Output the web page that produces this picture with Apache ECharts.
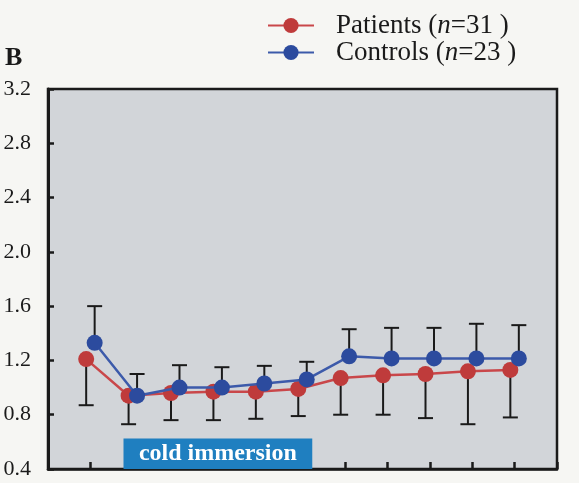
<!DOCTYPE html>
<html>
<head>
<meta charset="utf-8">
<script src="https://cdn.jsdelivr.net/npm/echarts@6/dist/echarts.min.js"></script>
<style>
html,body{margin:0;padding:0;background:#f6f6f3;}
#chart{width:579px;height:483px;}
</style>
</head>
<body>
<div id="chart"></div>
<script>
// Time points (11 measurements, unlabeled on the x axis)
const timePoints = [1, 2, 3, 4, 5, 6, 7, 8, 9, 10, 11];
// Patients (n=31): mean and lower error bound
const patientsMean  = [1.21, 0.94, 0.96, 0.97, 0.97, 0.99, 1.07, 1.09, 1.10, 1.12, 1.13];
const patientsLower = [0.87, 0.73, 0.76, 0.76, 0.77, 0.79, 0.80, 0.80, 0.775, 0.73, 0.78];
// Controls (n=23): mean and upper error bound
const controlsMean  = [1.33, 0.94, 1.00, 1.00, 1.03, 1.06, 1.23, 1.215, 1.215, 1.215, 1.215];
const controlsUpper = [1.60, 1.10, 1.165, 1.15, 1.16, 1.19, 1.43, 1.44, 1.44, 1.47, 1.46];
// Y tick labels
const yTicks = ['0.4', '0.8', '1.2', '1.6', '2.0', '2.4', '2.8', '3.2'];
// Cold immersion period (x range on the time axis)
const coldRange = [1.78, 6.23];
const coldTop = 0.625;

const SERIF = '"Liberation Serif", "Times New Roman", serif';
const RED = '#bf3b3b', BLUE = '#2c4b9e';
const OFF = 0.1;

function pts(means, off) { return timePoints.map((t, i) => [t + off, means[i]]); }
function errData(means, bounds, off) { return timePoints.map((t, i) => [t + off, means[i], bounds[i]]); }

function errRender(params, api) {
  const x = api.value(0), m = api.value(1), b = api.value(2);
  const p1 = api.coord([x, m]), p2 = api.coord([x, b]);
  const w = 7.5;
  const st = { stroke: '#1a1a1a', lineWidth: 2 };
  return { type: 'group', children: [
    { type: 'line', shape: { x1: p1[0], y1: p1[1], x2: p2[0], y2: p2[1] }, style: st },
    { type: 'line', shape: { x1: p2[0] - w, y1: p2[1], x2: p2[0] + w, y2: p2[1] }, style: st }
  ]};
}

const chart = echarts.init(document.getElementById('chart'));
chart.setOption({
  backgroundColor: '#f6f6f3',
  animation: false,
  title: { text: 'B', left: 5, top: 45, padding: 0, textStyle: { fontFamily: SERIF, fontWeight: 'bold', fontSize: 26, color: '#1a1a1a' } },
  legend: {
    orient: 'vertical', left: 267, top: 12, padding: 0, itemWidth: 46, itemHeight: 19, itemGap: 0,
    data: ['Patients', 'Controls'],
    formatter: function (name) {
      return name === 'Patients' ? '{a|Patients (}{i|n}{a|=31 )}' : '{a|Controls (}{i|n}{a|=23 )}';
    },
    textStyle: {
      padding: [0, 0, 0, 17],
      rich: {
        a: { fontFamily: SERIF, fontSize: 27, color: '#1a1a1a', lineHeight: 28 },
        i: { fontFamily: SERIF, fontSize: 27, fontStyle: 'italic', color: '#1a1a1a', lineHeight: 28 }
      }
    }
  },
  grid: { left: 48, right: 22, top: 89, bottom: 14, show: true, backgroundColor: '#d2d5d9', borderColor: '#1a1a1a', borderWidth: 2.5 },
  xAxis: {
    type: 'value', min: 0, max: 12, interval: 1,
    axisLine: { show: true, lineStyle: { color: '#1a1a1a', width: 2.5 } },
    axisTick: { show: true, inside: true, length: 7, lineStyle: { color: '#1a1a1a', width: 2.5 } },
    axisLabel: { show: false }, splitLine: { show: false }
  },
  yAxis: {
    type: 'value', min: 0.4, max: 3.2, interval: 0.4,
    axisLine: { show: true, lineStyle: { color: '#1a1a1a', width: 3 } },
    axisTick: { show: true, inside: true, length: 6, lineStyle: { color: '#1a1a1a', width: 2.5 } },
    axisLabel: { margin: 17, fontFamily: SERIF, fontSize: 22, color: '#1a1a1a',
      formatter: v => { const s = v.toFixed(1); return yTicks.includes(s) ? s : ''; } },
    splitLine: { show: false }
  },
  series: [
    { type: 'custom', name: 'errP', renderItem: errRender, data: errData(patientsMean, patientsLower, -OFF), z: 1, encode: { x: 0, y: [1, 2] } },
    { type: 'custom', name: 'errC', renderItem: errRender, data: errData(controlsMean, controlsUpper, OFF), z: 1, encode: { x: 0, y: [1, 2] } },
    {
      type: 'line', name: 'Patients', data: pts(patientsMean, -OFF), symbol: 'circle', symbolSize: 16, z: 3,
      itemStyle: { color: RED }, lineStyle: { color: '#c9474a', width: 2.5 },
      markArea: {
        silent: true,
        itemStyle: { color: '#1f7fc0' },
        label: { show: true, position: 'inside', color: '#ffffff', fontFamily: SERIF, fontWeight: 'bold', fontSize: 24, formatter: 'cold immersion' },
        data: [[{ xAxis: coldRange[0], yAxis: 0.4 }, { xAxis: coldRange[1], yAxis: coldTop }]]
      }
    },
    {
      type: 'line', name: 'Controls', data: pts(controlsMean, OFF), symbol: 'circle', symbolSize: 16, z: 4,
      itemStyle: { color: BLUE }, lineStyle: { color: '#3c5aaa', width: 2.5 }
    }
  ]
});
</script>
</body>
</html>
